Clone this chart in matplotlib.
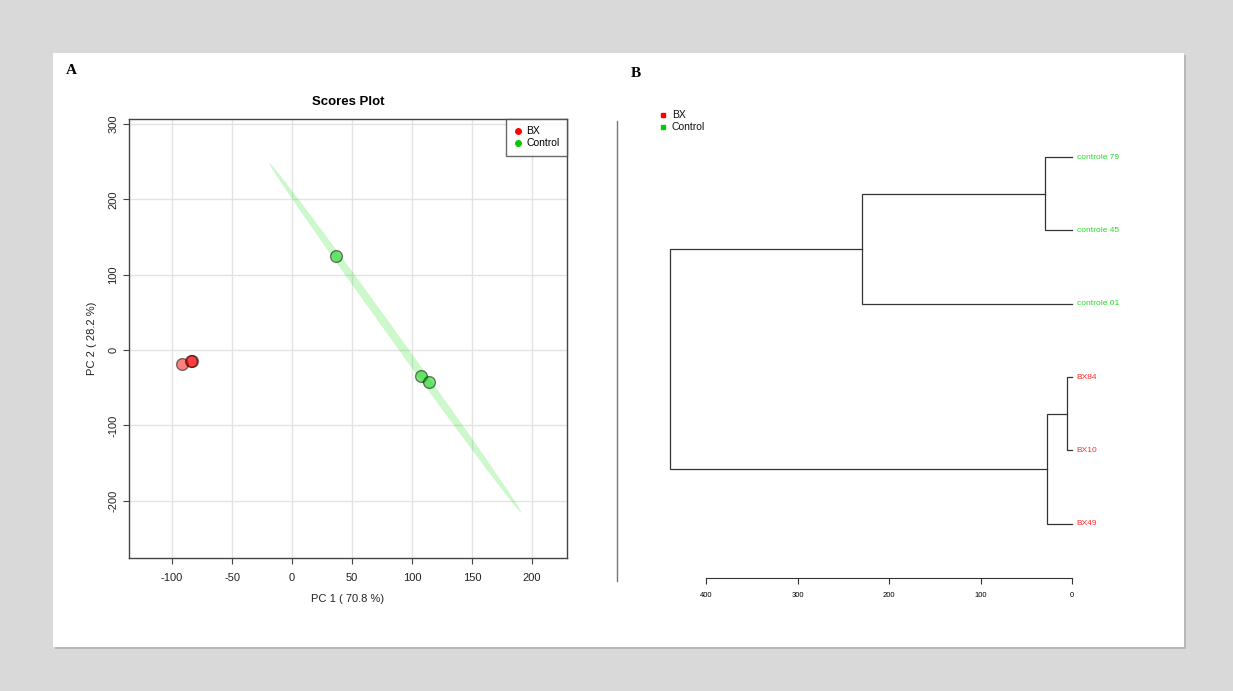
import numpy as np
import matplotlib.pyplot as plt
from matplotlib.patches import Rectangle, Polygon

W, H = 1233, 691

# PCA scores (PC1, PC2)
bx_pc1 = [-91.7, -83.3, -83.8]
bx_pc2 = [-18.7, -14.7, -15.2]
ctrl_pc1 = [36.7, 107.5, 114.0]
ctrl_pc2 = [125.3, -34.7, -42.7]
x_ticks = [-100, -50, 0, 50, 100, 150, 200]
y_ticks = [-200, -100, 0, 100, 200, 300]

# hierarchical clustering (leaves top to bottom, merge heights)
leaves = ["controle 79", "controle 45", "controle 01", "BX84", "BX10", "BX49"]
leaf_group = ["Control", "Control", "Control", "BX", "BX", "BX"]
# (left child, right child, height); negative index = leaf, positive = earlier merge
merges = [(-1, -2, 29.5), (1, -3, 229.5), (-4, -5, 5.5), (3, -6, 27.3), (2, 4, 439.0)]
dend_ticks = [400, 300, 200, 100, 0]

colors = {"BX": "#ff0000", "Control": "#00cc00"}
leaf_colors = {"BX": "#ff3030", "Control": "#22dd22"}


def px_rect(x0, y0, x1, y1):
    return [x0 / W, 1 - y1 / H, (x1 - x0) / W, (y1 - y0) / H]


plt.rcParams['font.family'] = ['Liberation Sans', 'DejaVu Sans']
plt.rcParams['axes.unicode_minus'] = False
fig = plt.figure(figsize=(W / 100, H / 100), dpi=100)
fig.patch.set_facecolor('#d9d9d9')

# white card with a faint shadow
bg = fig.add_axes([0, 0, 1, 1])
bg.set_xlim(0, W)
bg.set_ylim(H, 0)
bg.axis('off')
bg.add_patch(Rectangle((55, 55), 1131, 594, color='#b8b8b8', lw=0))
bg.add_patch(Rectangle((53, 53), 1131, 594, color='white', lw=0))
bg.plot([617, 617], [121, 581], color='#777777', lw=1)
bg.text(66, 70, "A", fontsize=11, fontweight='bold', family='Liberation Serif', va='center')
bg.text(631, 73, "B", fontsize=11, fontweight='bold', family='Liberation Serif', va='center')

# ---- A: scores plot ----
ax = fig.add_axes(px_rect(129, 119, 567, 558))
ax.set_xlim(-135.8, 229)
ax.set_ylim(-276, 306.6)
ax.set_xticks(x_ticks)
ax.set_yticks(y_ticks)
ax.grid(True, color='#e3e3e3', lw=1)
ax.set_axisbelow(True)
for s in ax.spines.values():
    s.set_color('#444444')
    s.set_linewidth(1)
ax.tick_params(direction='out', length=4, color='#444444', labelsize=8, labelcolor='#222222')
ax.tick_params(axis='x', pad=7)
for lab in ax.get_yticklabels():
    lab.set_rotation(90)
    lab.set_va('center')

# 95% confidence ellipse for the control group
pts = np.column_stack([ctrl_pc1, ctrl_pc2])
center = pts.mean(axis=0)
cov = np.cov(pts.T)
vals, vecs = np.linalg.eigh(cov)
vals = np.maximum(vals, 2.5)
t = np.linspace(0, 2 * np.pi, 200)
circle = np.column_stack([np.cos(t), np.sin(t)])
ell = center + np.sqrt(5.991) * (circle * np.sqrt(vals)) @ vecs.T
ax.add_patch(Polygon(ell, closed=True, facecolor='#00dd00', alpha=0.2, lw=0))

ax.scatter(bx_pc1, bx_pc2, s=72, c=colors["BX"], alpha=0.5, edgecolors='black', linewidths=1, zorder=3)
ax.scatter(ctrl_pc1, ctrl_pc2, s=72, c=colors["Control"], alpha=0.5, edgecolors='black', linewidths=1, zorder=3)

ax.set_title("Scores Plot", fontsize=9.5, fontweight='bold', pad=10)
ax.set_xlabel("PC 1 ( 70.8 %)", fontsize=8, color='#222222', labelpad=8)
ax.set_ylabel("PC 2 ( 28.2 %)", fontsize=8, color='#222222', labelpad=8)

leg_h = [plt.Line2D([], [], ls='', marker='o', ms=4, color=colors[g]) for g in ["BX", "Control"]]
leg = ax.legend(leg_h, ["BX", "Control"], loc='upper right', fontsize=7.5, frameon=True,
                fancybox=False, borderaxespad=0, handletextpad=0.3, borderpad=0.7,
                handlelength=1.0, labelspacing=0.2)
leg.get_frame().set_edgecolor('#444444')
leg.get_frame().set_linewidth(1)

# ---- B: dendrogram ----
dx = fig.add_axes(px_rect(660, 100, 1072, 600))
dx.set_xlim(400 + (706 - 660) / 0.915, 0)
dx.set_ylim(6.04, -0.778)
for name in ['top', 'left', 'right']:
    dx.spines[name].set_visible(False)
dx.spines['bottom'].set_position(('data', 5.74))
dx.spines['bottom'].set_bounds(0, 400)
dx.spines['bottom'].set_color('#333333')
dx.set_yticks([])
dx.set_xticks(dend_ticks)
dx.tick_params(axis='x', direction='out', length=4, color='#333333', labelsize=5.5, pad=6)
dx.patch.set_alpha(0)

node_pos = {}
for i in range(len(leaves)):
    node_pos[-(i + 1)] = (0.0, float(i))
for k, (a, b, h) in enumerate(merges, start=1):
    pa, pb = node_pos[a], node_pos[b]
    dx.plot([pa[0], h, h, pb[0]], [pa[1], pa[1], pb[1], pb[1]], color='#333333', lw=0.9,
            clip_on=False, solid_joinstyle='miter')
    node_pos[k] = (h, (pa[1] + pb[1]) / 2)

for i, (name, g) in enumerate(zip(leaves, leaf_group)):
    dx.text(-5, i, name, color=leaf_colors[g], fontsize=6, va='center', ha='left', clip_on=False)

for j, g in enumerate(["BX", "Control"]):
    bg.plot(663, 115 + 12 * j, marker='s', ms=3.5, color=colors[g], ls='')
    bg.text(672, 115 + 12 * j, g, fontsize=7.5, va='center', color='#111111')

fig.savefig("out.png", dpi=100, facecolor=fig.get_facecolor())
